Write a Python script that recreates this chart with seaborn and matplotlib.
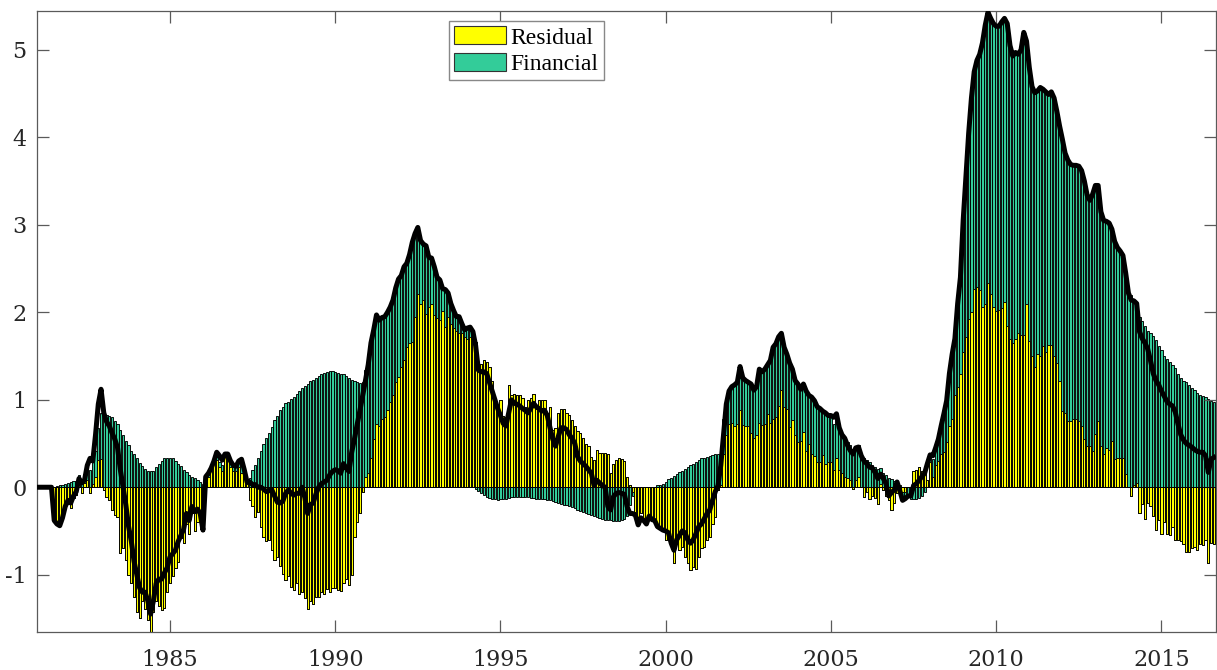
import numpy as np
import pandas as pd
import matplotlib
matplotlib.use("Agg")
import matplotlib.pyplot as plt
from matplotlib.patches import Patch
import seaborn as sns

# Monthly decomposition, January 1981 onwards (one row per year)
start_year = 1981

residual = [
    0, 0, 0, 0, 0, 0, -0.38, -0.41, -0.39, -0.30, -0.18, -0.14,
    -0.24, -0.12, -0.09, 0.08, -0.07, 0.05, 0.08, -0.07, 0.04, 0.12, 0.31, 0.32,
    -0.03, -0.11, -0.15, -0.26, -0.32, -0.34, -0.75, -0.69, -0.83, -1.00, -1.10, -1.25,
    -1.43, -1.50, -1.30, -1.39, -1.52, -1.65, -1.43, -1.30, -1.36, -1.40, -1.38, -1.20,
    -1.10, -1.02, -0.92, -0.85, -0.58, -0.64, -0.42, -0.53, -0.30, -0.50, -0.40, -0.38,
    -0.50, 0.10, 0.12, 0.19, 0.33, 0.31, 0.23, 0.18, 0.35, 0.31, 0.23, 0.18,
    0.19, 0.23, 0.16, 0.10, 0.04, -0.15, -0.22, -0.34, -0.28, -0.45, -0.57, -0.62,
    -0.60, -0.72, -0.83, -0.80, -0.90, -0.99, -1.06, -1.02, -1.14, -1.18, -1.10, -1.22,
    -1.20, -1.27, -1.39, -1.30, -1.33, -1.25, -1.25, -1.20, -1.22, -1.16, -1.20, -1.15,
    -1.15, -1.17, -1.19, -1.10, -1.05, -1.12, -1.00, -0.57, -0.40, -0.30, -0.05, 0.12,
    0.16, 0.33, 0.55, 0.72, 0.70, 0.78, 0.80, 0.88, 0.97, 1.06, 1.20, 1.26,
    1.38, 1.45, 1.60, 1.65, 1.66, 1.95, 2.21, 2.10, 2.14, 1.98, 2.06, 2.10,
    1.97, 1.93, 1.91, 2.02, 1.83, 1.95, 1.87, 1.82, 1.79, 1.76, 1.76, 1.72,
    1.70, 1.72, 1.70, 1.66, 1.43, 1.41, 1.46, 1.43, 1.38, 1.21, 1.00, 0.85,
    1.00, 0.82, 0.80, 1.17, 1.05, 1.07, 1.06, 1.05, 1.02, 0.92, 1.00, 1.02,
    1.07, 0.90, 1.00, 1.00, 1.00, 0.85, 0.92, 0.66, 0.68, 0.85, 0.89, 0.90,
    0.85, 0.83, 0.77, 0.70, 0.64, 0.62, 0.56, 0.50, 0.47, 0.35, 0.31, 0.43,
    0.39, 0.39, 0.39, 0.38, 0.16, 0.27, 0.31, 0.33, 0.32, 0.30, 0.12, 0.03,
    -0.05, -0.28, -0.40, -0.30, -0.38, -0.35, -0.33, -0.38, -0.36, -0.42, -0.45, -0.49,
    -0.60, -0.55, -0.64, -0.87, -0.64, -0.72, -0.68, -0.80, -0.87, -0.95, -0.91, -0.93,
    -0.80, -0.70, -0.68, -0.60, -0.57, -0.42, -0.34, -0.03, 0.03, 0.38, 0.60, 0.72,
    0.73, 0.70, 0.72, 0.88, 0.71, 0.70, 0.70, 0.62, 0.56, 0.60, 0.73, 0.71,
    0.72, 0.84, 0.74, 0.78, 0.80, 0.93, 1.11, 0.92, 0.90, 0.69, 0.77, 0.60,
    0.52, 0.53, 0.63, 0.42, 0.50, 0.38, 0.36, 0.29, 0.29, 0.37, 0.27, 0.29,
    0.29, 0.20, 0.33, 0.20, 0.16, 0.12, 0.10, 0.08, -0.02, 0.08, 0.12, 0.00,
    -0.11, -0.05, -0.13, -0.10, -0.12, -0.19, 0.04, -0.03, -0.10, -0.15, -0.26, -0.18,
    -0.07, -0.04, -0.05, -0.05, 0.00, -0.02, 0.19, 0.20, 0.23, 0.19, 0.23, 0.08,
    0.29, 0.12, 0.25, 0.30, 0.38, 0.40, 0.52, 0.70, 0.78, 1.05, 1.15, 1.30,
    1.55, 1.72, 1.92, 2.00, 2.27, 2.29, 2.25, 2.06, 2.10, 2.33, 2.21, 2.06,
    2.02, 2.03, 2.05, 2.12, 1.84, 1.70, 1.65, 1.69, 1.76, 1.74, 1.74, 2.09,
    1.67, 1.50, 1.37, 1.52, 1.50, 1.61, 1.55, 1.63, 1.63, 1.50, 1.42, 1.21,
    0.87, 0.85, 0.76, 0.76, 0.78, 0.78, 0.76, 0.70, 0.55, 0.47, 0.47, 0.42,
    0.61, 0.76, 0.47, 0.38, 0.45, 0.43, 0.53, 0.32, 0.33, 0.34, 0.34, 0.15,
    0.00, -0.10, 0.02, 0.05, -0.30, -0.19, -0.36, -0.18, -0.21, -0.33, -0.49, -0.38,
    -0.53, -0.40, -0.53, -0.55, -0.45, -0.60, -0.60, -0.62, -0.65, -0.74, -0.74, -0.70,
    -0.68, -0.72, -0.65, -0.66, -0.60, -0.87, -0.64, -0.65,
]

financial = [
    0, 0, 0, 0, 0, 0, 0.00, 0.01, 0.02, 0.03, 0.04, 0.05,
    0.06, 0.07, 0.07, 0.06, 0.08, 0.10, 0.12, 0.20, 0.28, 0.30, 0.37, 0.53,
    0.84, 0.83, 0.82, 0.80, 0.76, 0.72, 0.65, 0.60, 0.53, 0.48, 0.42, 0.38,
    0.34, 0.28, 0.24, 0.21, 0.19, 0.18, 0.19, 0.23, 0.27, 0.30, 0.33, 0.34,
    0.34, 0.33, 0.30, 0.27, 0.24, 0.20, 0.17, 0.14, 0.12, 0.10, 0.08, 0.06,
    0.04, 0.02, 0.02, 0.03, 0.03, 0.05, 0.06, 0.08, 0.04, 0.06, 0.05, 0.06,
    0.05, 0.06, 0.12, 0.08, 0.05, 0.10, 0.20, 0.26, 0.33, 0.42, 0.50, 0.56,
    0.62, 0.69, 0.77, 0.82, 0.88, 0.92, 0.96, 0.98, 1.01, 1.03, 1.07, 1.10,
    1.13, 1.16, 1.18, 1.21, 1.23, 1.25, 1.27, 1.29, 1.31, 1.32, 1.33, 1.33,
    1.32, 1.31, 1.30, 1.29, 1.27, 1.25, 1.23, 1.21, 1.20, 1.19, 1.20, 1.22,
    1.24, 1.32, 1.25, 1.25, 1.21, 1.16, 1.15, 1.12, 1.09, 1.08, 1.08, 1.12,
    1.04, 1.07, 0.96, 1.01, 1.14, 0.95, 0.76, 0.72, 0.64, 0.78, 0.57, 0.52,
    0.55, 0.47, 0.46, 0.25, 0.43, 0.27, 0.23, 0.20, 0.16, 0.19, 0.11, 0.08,
    0.12, 0.11, 0.08, -0.02, -0.04, -0.07, -0.09, -0.11, -0.12, -0.13, -0.14, -0.145,
    -0.14, -0.14, -0.13, -0.12, -0.115, -0.11, -0.11, -0.11, -0.11, -0.11, -0.115, -0.12,
    -0.12, -0.13, -0.13, -0.14, -0.14, -0.15, -0.15, -0.16, -0.17, -0.18, -0.19, -0.20,
    -0.20, -0.21, -0.23, -0.24, -0.26, -0.27, -0.28, -0.29, -0.31, -0.32, -0.33, -0.34,
    -0.35, -0.36, -0.37, -0.38, -0.38, -0.39, -0.39, -0.39, -0.38, -0.36, -0.33, -0.20,
    -0.05, -0.03, -0.02, 0.00, 0.00, 0.00, 0.00, 0.00, 0.00, 0.02, 0.03, 0.04,
    0.06, 0.09, 0.11, 0.13, 0.15, 0.17, 0.19, 0.21, 0.23, 0.25, 0.27, 0.29,
    0.31, 0.33, 0.34, 0.35, 0.36, 0.37, 0.38, 0.38, 0.39, 0.40, 0.42, 0.40,
    0.42, 0.47, 0.48, 0.50, 0.54, 0.52, 0.50, 0.56, 0.55, 0.55, 0.62, 0.61,
    0.63, 0.56, 0.71, 0.82, 0.84, 0.79, 0.65, 0.68, 0.62, 0.73, 0.58, 0.62,
    0.66, 0.59, 0.55, 0.68, 0.55, 0.65, 0.63, 0.63, 0.61, 0.50, 0.58, 0.53,
    0.53, 0.52, 0.50, 0.48, 0.46, 0.44, 0.42, 0.40, 0.39, 0.37, 0.36, 0.35,
    0.33, 0.31, 0.29, 0.26, 0.23, 0.21, 0.18, 0.16, 0.14, 0.11, 0.09, 0.07,
    0.05, 0.02, -0.05, -0.08, -0.10, -0.12, -0.13, -0.13, -0.12, -0.10, -0.06, 0.00,
    0.10, 0.20, 0.22, 0.26, 0.32, 0.44, 0.47, 0.60, 0.74, 0.65, 0.95, 1.10,
    1.50, 1.83, 2.13, 2.45, 2.48, 2.59, 2.70, 3.02, 3.18, 3.10, 3.15, 3.24,
    3.25, 3.24, 3.27, 3.24, 3.46, 3.35, 3.28, 3.28, 3.19, 3.26, 3.46, 3.01,
    3.13, 3.08, 3.14, 3.01, 3.07, 2.94, 2.97, 2.86, 2.89, 2.95, 2.88, 2.92,
    3.11, 2.97, 2.98, 2.93, 2.90, 2.90, 2.91, 2.92, 2.95, 2.87, 2.81, 2.93,
    2.84, 2.69, 2.68, 2.67, 2.59, 2.59, 2.42, 2.49, 2.41, 2.36, 2.31, 2.30,
    2.22, 2.20, 2.11, 2.05, 1.95, 1.90, 1.84, 1.79, 1.76, 1.73, 1.68, 1.61,
    1.57, 1.50, 1.47, 1.43, 1.40, 1.36, 1.29, 1.25, 1.22, 1.20, 1.17, 1.14,
    1.11, 1.08, 1.06, 1.04, 1.03, 1.01, 0.99, 0.98,
]

observed = [
    0, 0, 0, 0, 0, 0, -0.38, -0.42, -0.44, -0.35, -0.22, -0.15,
    -0.18, -0.10, -0.05, 0.10, 0.05, 0.08, 0.25, 0.33, 0.30, 0.60, 0.95, 1.12,
    0.85, 0.75, 0.70, 0.62, 0.55, 0.45, 0.20, 0.00, -0.20, -0.45, -0.62, -0.85,
    -1.00, -1.15, -1.20, -1.20, -1.30, -1.45, -1.30, -1.10, -1.05, -1.05, -0.98, -0.92,
    -0.80, -0.76, -0.72, -0.62, -0.55, -0.48, -0.30, -0.38, -0.22, -0.28, -0.25, -0.30,
    -0.49, 0.12, 0.16, 0.22, 0.30, 0.40, 0.36, 0.31, 0.38, 0.38, 0.30, 0.25,
    0.24, 0.30, 0.32, 0.20, 0.06, 0.06, 0.03, 0.03, 0.00, 0.00, -0.02, -0.05,
    -0.04, -0.03, -0.10, -0.17, -0.18, -0.16, -0.07, -0.03, -0.07, -0.09, -0.07, -0.07,
    0.00, -0.12, -0.30, -0.20, -0.18, -0.08, 0.00, 0.04, 0.06, 0.08, 0.14, 0.18,
    0.20, 0.19, 0.16, 0.27, 0.22, 0.18, 0.40, 0.55, 0.72, 0.88, 1.05, 1.22,
    1.40, 1.65, 1.80, 1.97, 1.91, 1.94, 1.95, 2.00, 2.06, 2.14, 2.28, 2.38,
    2.42, 2.52, 2.56, 2.66, 2.80, 2.90, 2.97, 2.82, 2.78, 2.76, 2.63, 2.62,
    2.52, 2.40, 2.37, 2.27, 2.26, 2.22, 2.10, 2.02, 1.95, 1.95, 1.87, 1.80,
    1.82, 1.83, 1.78, 1.62, 1.34, 1.32, 1.32, 1.30, 1.20, 1.10, 1.00, 0.90,
    0.82, 0.73, 0.70, 0.85, 1.00, 0.96, 0.95, 0.93, 0.90, 0.88, 0.85, 0.90,
    0.96, 0.92, 0.90, 0.87, 0.88, 0.82, 0.68, 0.55, 0.47, 0.58, 0.68, 0.68,
    0.66, 0.60, 0.56, 0.50, 0.35, 0.30, 0.27, 0.24, 0.20, 0.16, 0.02, 0.08,
    0.05, 0.02, 0.00, -0.22, -0.26, -0.11, -0.07, -0.06, -0.07, -0.08, -0.22, -0.30,
    -0.30, -0.32, -0.43, -0.35, -0.38, -0.42, -0.33, -0.37, -0.38, -0.45, -0.47, -0.49,
    -0.50, -0.52, -0.64, -0.72, -0.60, -0.55, -0.50, -0.52, -0.60, -0.64, -0.60, -0.53,
    -0.45, -0.42, -0.36, -0.30, -0.26, -0.15, -0.05, 0.02, 0.25, 0.60, 0.95, 1.10,
    1.15, 1.17, 1.20, 1.38, 1.25, 1.22, 1.20, 1.18, 1.11, 1.15, 1.35, 1.32,
    1.35, 1.40, 1.45, 1.60, 1.64, 1.72, 1.76, 1.60, 1.52, 1.42, 1.35, 1.22,
    1.18, 1.12, 1.18, 1.10, 1.05, 1.03, 0.99, 0.92, 0.90, 0.87, 0.85, 0.82,
    0.82, 0.80, 0.84, 0.68, 0.60, 0.56, 0.48, 0.42, 0.38, 0.45, 0.46, 0.36,
    0.30, 0.27, 0.23, 0.22, 0.17, 0.10, 0.15, 0.10, 0.04, -0.10, -0.06, -0.03,
    0.06, -0.04, -0.15, -0.13, -0.10, -0.10, 0.02, 0.04, 0.08, 0.12, 0.16, 0.27,
    0.37, 0.36, 0.45, 0.55, 0.70, 0.84, 0.99, 1.30, 1.52, 1.70, 2.10, 2.40,
    3.05, 3.55, 4.05, 4.45, 4.75, 4.88, 4.95, 5.08, 5.28, 5.43, 5.36, 5.30,
    5.27, 5.27, 5.32, 5.36, 5.30, 5.05, 4.93, 4.97, 4.95, 5.00, 5.20, 5.10,
    4.80, 4.58, 4.51, 4.53, 4.57, 4.55, 4.52, 4.49, 4.52, 4.45, 4.30, 4.13,
    3.98, 3.82, 3.74, 3.69, 3.68, 3.68, 3.67, 3.62, 3.50, 3.34, 3.28, 3.35,
    3.45, 3.45, 3.15, 3.05, 3.04, 3.02, 2.95, 2.81, 2.74, 2.70, 2.65, 2.45,
    2.22, 2.14, 2.13, 2.10, 1.78, 1.70, 1.65, 1.58, 1.45, 1.30, 1.22, 1.17,
    1.10, 1.04, 0.98, 0.95, 0.93, 0.86, 0.72, 0.60, 0.54, 0.50, 0.48, 0.46,
    0.43, 0.41, 0.40, 0.40, 0.36, 0.17, 0.32, 0.34,
]

year_ticks = [1985, 1990, 1995, 2000, 2005, 2010, 2015]
value_ticks = [-1, 0, 1, 2, 3, 4, 5]
series_names = ["Residual", "Financial"]

YELLOW = "#ffff00"
TEAL = "#33cc99"

# ---------------------------------------------------------------- frame
n = len(observed)
df = pd.DataFrame({
    "date": start_year + np.arange(n) / 12.0,
    "residual": residual,
    "financial": financial,
    "observed": observed,
})
res = df["residual"].to_numpy()
fin = df["financial"].to_numpy()
# positive and negative contributions are stacked separately from zero
df["pos_all"] = np.clip(res, 0, None) + np.clip(fin, 0, None)
df["pos_res"] = np.clip(res, 0, None)
df["neg_all"] = np.clip(res, None, 0) + np.clip(fin, None, 0)
df["neg_res"] = np.clip(res, None, 0)

fig = plt.figure(figsize=(12.17, 6.70), dpi=100)
ax = fig.add_axes([0.0307, 0.0567, 0.9685, 0.9276])

bar_kw = dict(data=df, x="date", native_scale=True, orient="x", errorbar=None,
              width=0.8, saturation=1, edgecolor="black", linewidth=0.65, ax=ax)
sns.barplot(y="pos_all", color=TEAL, **bar_kw)
sns.barplot(y="neg_all", color=TEAL, **bar_kw)
sns.barplot(y="pos_res", color=YELLOW, **bar_kw)
sns.barplot(y="neg_res", color=YELLOW, **bar_kw)

ax.axhline(0, color="black", lw=0.7, zorder=3)

sns.lineplot(data=df, x="date", y="observed", color="black", lw=3.6,
             estimator=None, ax=ax, zorder=4, solid_joinstyle="round")

ax.set_xlim(1980.99, 2016.65)
ax.set_ylim(-1.655, 5.45)
ax.set_xticks(year_ticks)
ax.set_xticklabels([str(y) for y in year_ticks])
ax.set_yticks(value_ticks)
ax.set_yticklabels([str(v) for v in value_ticks])
ax.set_xlabel("")
ax.set_ylabel("")

for s in ax.spines.values():
    s.set_color("#5a5a5a")
    s.set_linewidth(0.9)
ax.tick_params(direction="in", length=8.5, width=0.9, color="#5a5a5a",
               top=True, right=True, labelcolor="#262626",
               labelsize=16)
ax.tick_params(axis="x", pad=12)
ax.tick_params(axis="y", pad=8)
for lab in ax.get_xticklabels() + ax.get_yticklabels():
    lab.set_family(["DejaVu Serif"])

handles = [Patch(facecolor=YELLOW, edgecolor="#333333", lw=0.8),
           Patch(facecolor=TEAL, edgecolor="#333333", lw=0.8)]
leg = ax.legend(handles, series_names, loc="upper left",
                bbox_to_anchor=(0.349, 0.983), borderaxespad=0,
                frameon=True, fancybox=False, framealpha=1,
                prop={"family": ["Liberation Serif"], "size": 17},
                handlelength=2.2, handleheight=0.8, handletextpad=0.2,
                borderpad=0.22, labelspacing=0.18)
leg.get_frame().set_edgecolor("#888888")
leg.get_frame().set_linewidth(1.0)

fig.savefig("out.png", dpi=100)
